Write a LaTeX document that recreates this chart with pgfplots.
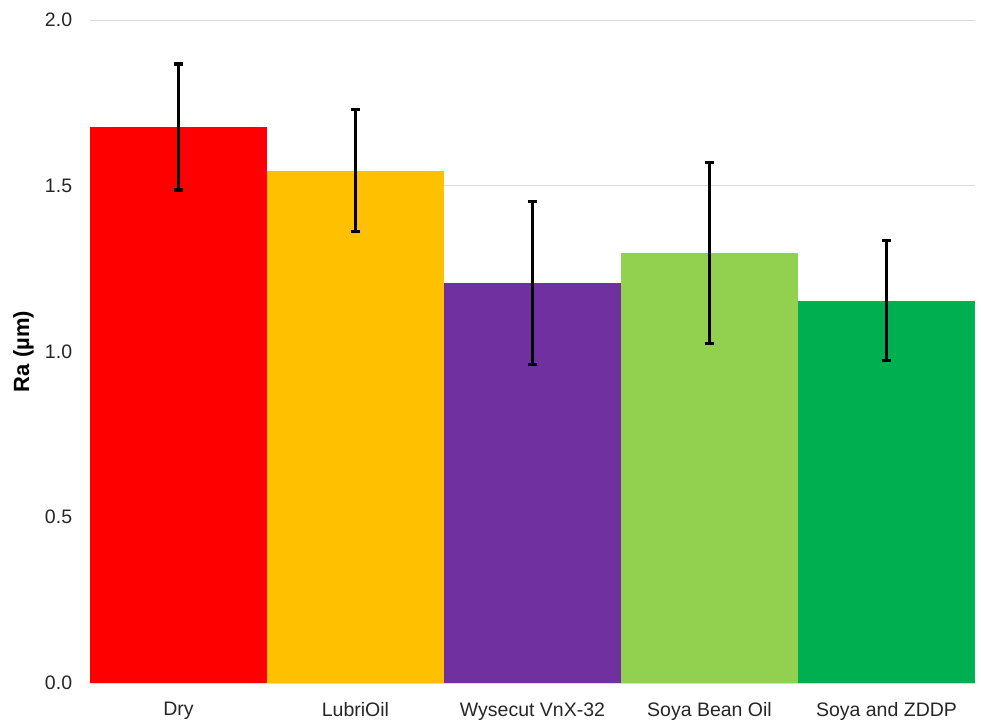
\documentclass[border=0pt]{standalone}
\usepackage{fontspec}
\setmainfont{Liberation Sans}
\usepackage{pgfplots}
\pgfplotsset{compat=1.18}
\definecolor{cDry}{HTML}{FF0000}
\definecolor{cLub}{HTML}{FFC000}
\definecolor{cWys}{HTML}{7030A0}
\definecolor{cSoy}{HTML}{92D050}
\definecolor{cZdd}{HTML}{00B050}
\definecolor{gridc}{HTML}{D9D9D9}
\begin{document}
\fontsize{9.75}{12}\selectfont
\begin{tikzpicture}
\useasboundingbox (-45pt,-18pt) rectangle (445.5pt,341.5pt);
\begin{axis}[
  at={(0,0)}, anchor=south west,
  scale only axis, width=442.5pt, height=331.5pt,
  ybar, bar width=1, bar shift=0pt,
  xmin=-0.5, xmax=4.5, ymin=0, ymax=2,
  xtick={0,1,2,3,4},
  xticklabels={Dry,LubriOil,Wysecut VnX-32,Soya Bean Oil,Soya and ZDDP},
  ytick={0,0.5,1,1.5,2},
  yticklabel style={/pgf/number format/fixed,/pgf/number format/fixed zerofill,/pgf/number format/precision=1},
  /pgf/number format/assume math mode=true,
  ymajorgrids, grid style={gridc, line width=0.5pt},
  axis line style={draw=none},
  major tick style={draw=none},
  tick label style={font=\fontsize{9.75}{12}\selectfont, text=black!85},
  yticklabel style={xshift=-5.5pt},
  xticklabel style={yshift=-2pt},
  ylabel={\textbf{Ra (µm)}},
  ylabel style={font=\fontsize{11}{13}\selectfont, yshift=-1pt},
  error bars/error bar style={line width=1.6pt, draw=black},
  error bars/error mark options={line width=1.6pt, mark size=2.4pt, draw=black, rotate=90},
  clip=false,
]
\draw[gridc, line width=0.5pt] (axis cs:-0.5,0) -- (axis cs:4.5,0);
\addplot[fill=cDry, draw=none, error bars/.cd, y dir=both, y explicit]
  coordinates {(0,1.677) +- (0,0.19)};
\addplot[fill=cLub, draw=none, error bars/.cd, y dir=both, y explicit]
  coordinates {(1,1.545) +- (0,0.184)};
\addplot[fill=cWys, draw=none, error bars/.cd, y dir=both, y explicit]
  coordinates {(2,1.207) +- (0,0.246)};
\addplot[fill=cSoy, draw=none, error bars/.cd, y dir=both, y explicit]
  coordinates {(3,1.297) +- (0,0.273)};
\addplot[fill=cZdd, draw=none, error bars/.cd, y dir=both, y explicit]
  coordinates {(4,1.153) +- (0,0.181)};
\end{axis}
\end{tikzpicture}
\end{document}
